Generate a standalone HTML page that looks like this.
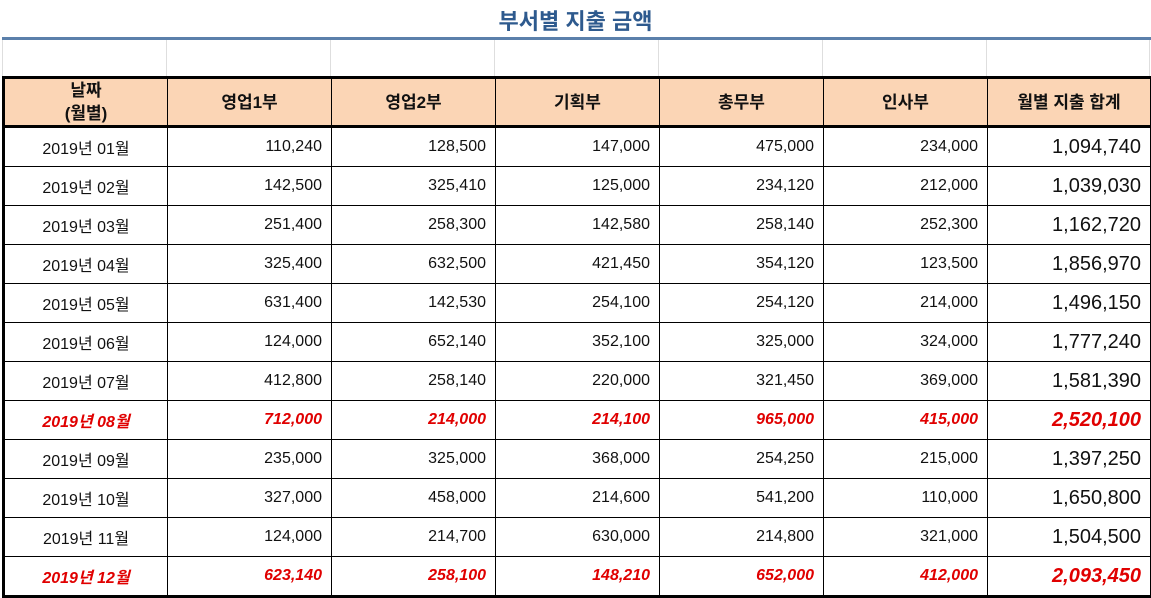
<!DOCTYPE html>
<html><head><meta charset="utf-8"><style>
body{margin:0;width:1151px;height:597px;background:#fff;position:relative;overflow:hidden;font-family:"Liberation Sans","Noto Sans CJK KR",sans-serif;}
.title{position:absolute;left:0;width:1151px;top:4px;text-align:center;font-size:22px;font-weight:bold;color:#2e5a8e;}
.bl{position:absolute;left:2px;width:1149px;top:37px;height:3px;background:#5b80ab;}
.g{position:absolute;top:40px;height:37px;width:1px;background:#dedede;}
table{position:absolute;left:2px;top:76px;border-collapse:collapse;table-layout:fixed;width:1148px;}
td,th{border:1px solid #000;font-size:16px;color:#111;padding:0 9px;height:38px;font-weight:normal;}
th{background:#fbd5b5;height:45px;font-weight:bold;font-size:17px;border:3px solid #000;border-left:1px solid #000;border-right:1px solid #000;line-height:23px;}
th:first-child{border-left:3px solid #000;}th:last-child{border-right:3px solid #000;}
td:first-child{text-align:center;border-left:3px solid #000;}
td{text-align:right;}
td:last-child{font-size:20px;border-right:3px solid #000;}
tr:last-child td{border-bottom:3px solid #000;}
tr.r td{color:#e00000;font-weight:bold;font-style:italic;}
</style></head><body>
<div class="title">부서별 지출 금액</div>
<div class="bl"></div>
<div class="g" style="left:2px"></div><div class="g" style="left:166px"></div><div class="g" style="left:330px"></div><div class="g" style="left:494px"></div><div class="g" style="left:658px"></div><div class="g" style="left:822px"></div><div class="g" style="left:986px"></div><div class="g" style="left:1149px"></div>
<table>
<colgroup><col style="width:164px"><col style="width:164px"><col style="width:164px"><col style="width:164px"><col style="width:164px"><col style="width:164px"><col style="width:164px"></colgroup>
<tr><th>날짜<br>(월별)</th><th>영업1부</th><th>영업2부</th><th>기획부</th><th>총무부</th><th>인사부</th><th>월별 지출 합계</th></tr>
<tr><td>2019년 01월</td><td>110,240</td><td>128,500</td><td>147,000</td><td>475,000</td><td>234,000</td><td>1,094,740</td></tr>
<tr><td>2019년 02월</td><td>142,500</td><td>325,410</td><td>125,000</td><td>234,120</td><td>212,000</td><td>1,039,030</td></tr>
<tr><td>2019년 03월</td><td>251,400</td><td>258,300</td><td>142,580</td><td>258,140</td><td>252,300</td><td>1,162,720</td></tr>
<tr><td>2019년 04월</td><td>325,400</td><td>632,500</td><td>421,450</td><td>354,120</td><td>123,500</td><td>1,856,970</td></tr>
<tr><td>2019년 05월</td><td>631,400</td><td>142,530</td><td>254,100</td><td>254,120</td><td>214,000</td><td>1,496,150</td></tr>
<tr><td>2019년 06월</td><td>124,000</td><td>652,140</td><td>352,100</td><td>325,000</td><td>324,000</td><td>1,777,240</td></tr>
<tr><td>2019년 07월</td><td>412,800</td><td>258,140</td><td>220,000</td><td>321,450</td><td>369,000</td><td>1,581,390</td></tr>
<tr class="r"><td>2019년 08월</td><td>712,000</td><td>214,000</td><td>214,100</td><td>965,000</td><td>415,000</td><td>2,520,100</td></tr>
<tr><td>2019년 09월</td><td>235,000</td><td>325,000</td><td>368,000</td><td>254,250</td><td>215,000</td><td>1,397,250</td></tr>
<tr><td>2019년 10월</td><td>327,000</td><td>458,000</td><td>214,600</td><td>541,200</td><td>110,000</td><td>1,650,800</td></tr>
<tr><td>2019년 11월</td><td>124,000</td><td>214,700</td><td>630,000</td><td>214,800</td><td>321,000</td><td>1,504,500</td></tr>
<tr class="r"><td>2019년 12월</td><td>623,140</td><td>258,100</td><td>148,210</td><td>652,000</td><td>412,000</td><td>2,093,450</td></tr>
</table>
</body></html>
